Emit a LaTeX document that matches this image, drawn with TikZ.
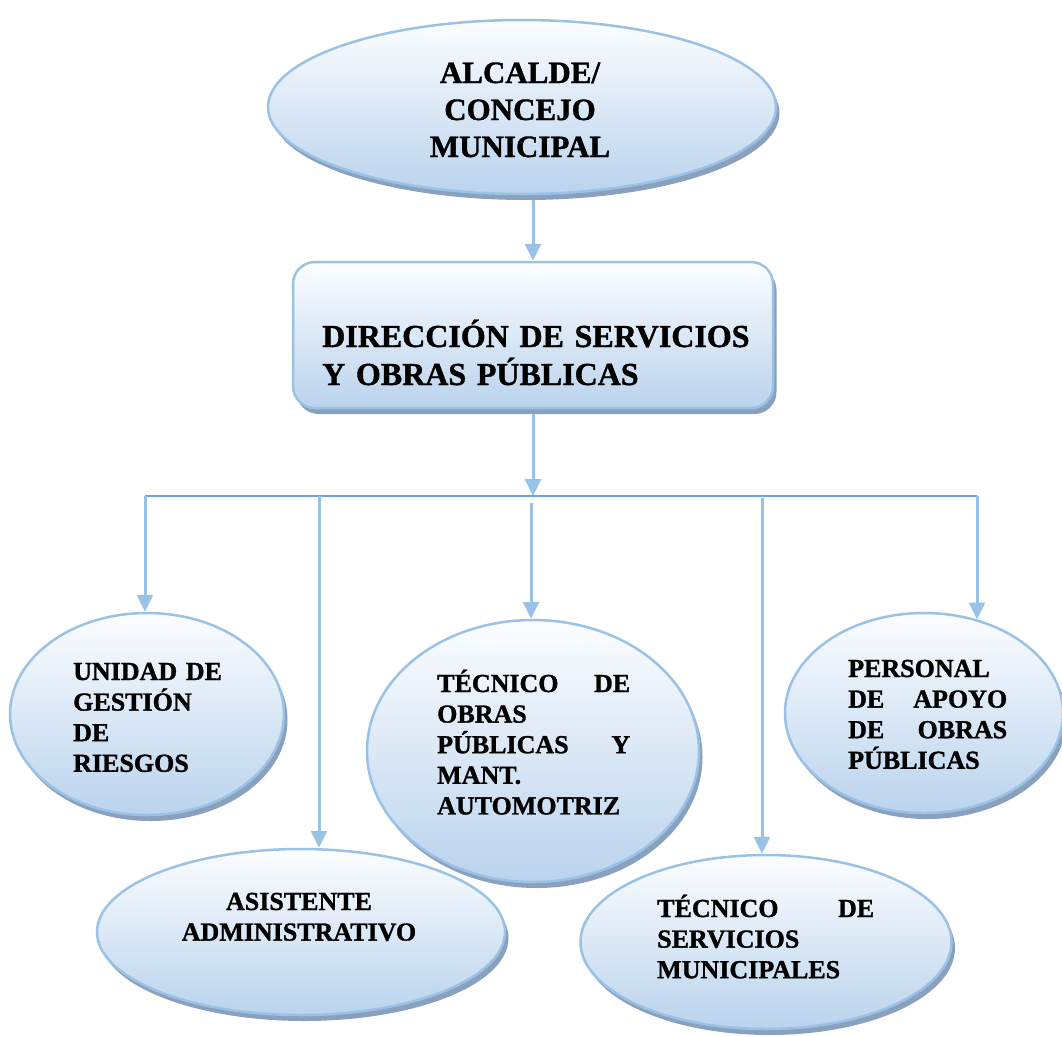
\documentclass[tikz,border=0pt]{standalone}
\usepackage{fontspec}
\setmainfont{Liberation Serif}[BoldFeatures={FakeBold=1.2}]
\usetikzlibrary{shapes.geometric,shadows,arrows.meta}
\definecolor{edgeblue}{HTML}{9AC2E6}
\definecolor{barblue}{HTML}{6FA3DA}
\definecolor{shadowgray}{HTML}{8AA1BE}
\definecolor{filltop}{HTML}{FCFDFF}
\definecolor{fillbot}{HTML}{BAD3ED}
\pgfdeclarelayer{back}
\pgfsetlayers{back,main}

\begin{document}
\begin{tikzpicture}[x=1pt,y=-1pt,
  unit/.style={draw=edgeblue, line width=2.5pt, top color=filltop, bottom color=fillbot,
    inner sep=0pt,
    drop shadow={shadow xshift=3.5pt, shadow yshift=-6pt, fill=shadowgray, opacity=1}},
  oval/.style={unit, ellipse},
  panel/.style={unit, rectangle, rounded corners=22pt},
  label/.style={inner sep=0pt, anchor=base west, align=left,
    font=\bfseries\fontsize{26}{30.6}\selectfont},
  clabel/.style={label, anchor=base, align=center},
  conn/.style={draw=edgeblue, line width=3pt},
  arr/.style={conn, -{Triangle[width=16pt,length=17pt]}},
  bar/.style={draw=barblue, line width=1.8pt},
]
\useasboundingbox (0,0) rectangle (1062,1036);

% shapes
\node[oval, minimum width=508pt, minimum height=174pt] (alc) at (522,107) {};
\node[panel, minimum width=480pt, minimum height=146pt] (dir) at (533,335) {};
\node[oval, minimum width=274pt, minimum height=202pt] (riesgo) at (147,714) {};
\node[oval, minimum width=332pt, minimum height=262pt] (obras) at (533,751) {};
\node[oval, minimum width=278pt, minimum height=200pt] (apoyo) at (924,713) {};
\node[oval, minimum width=408pt, minimum height=166pt] (asis) at (301,932) {};
\node[oval, minimum width=371pt, minimum height=174pt] (serv) at (766,942) {};

% texts
\node[clabel, text width=220pt, font=\bfseries\fontsize{31}{37}\selectfont]
  (alc-t) at (520,83) {ALCALDE/\\CONCEJO\\MUNICIPAL};
\node[label, text width=440pt, font=\bfseries\fontsize{32}{38}\selectfont]
  (dir-t) at (322,347) {DIRECCIÓN DE SERVICIOS\\Y OBRAS PÚBLICAS};
\node[label, text width=165pt] (riesgo-t) at (73,680)
  {UNIDAD DE\\GESTIÓN\\DE\\RIESGOS};
\node[label, text width=193pt] (obras-t) at (437,692)
  {TÉCNICO\hfill DE\\OBRAS\\PÚBLICAS\hfill Y\\MANT.\\AUTOMOTRIZ};
\node[label, text width=159pt] (apoyo-t) at (848,677)
  {PERSONAL\\DE\hfill APOYO\\DE\hfill OBRAS\\PÚBLICAS};
\node[clabel, text width=270pt] (asis-t) at (299,910)
  {ASISTENTE\\ADMINISTRATIVO};
\node[label, text width=217pt] (serv-t) at (657,917)
  {TÉCNICO\hfill DE\\SERVICIOS\\MUNICIPALES};

% branch points
\coordinate (barL) at (145,496);
\coordinate (barR) at (977,496);
\coordinate (dropAsis) at (319,496);
\coordinate (dropObras) at (531,503);
\coordinate (dropServ) at (762,498);

% connectors
\begin{pgfonlayer}{back}
\draw[arr] (alc.south -| dir.north) -- (dir.north);
\draw[arr] (dir.south) -- (dir.south |- barL);
\draw[bar] (barL) -- (barR);
\draw[arr] (barL) -- (barL |- riesgo.north);
\draw[arr] (dropAsis) -- (dropAsis |- asis.north);
\draw[arr] (dropObras) -- (dropObras |- obras.north);
\draw[arr] (dropServ) -- (dropServ |- serv.north);
\draw[arr] (barR) -- (barR |- apoyo.60);
\end{pgfonlayer}
\end{tikzpicture}
\end{document}
